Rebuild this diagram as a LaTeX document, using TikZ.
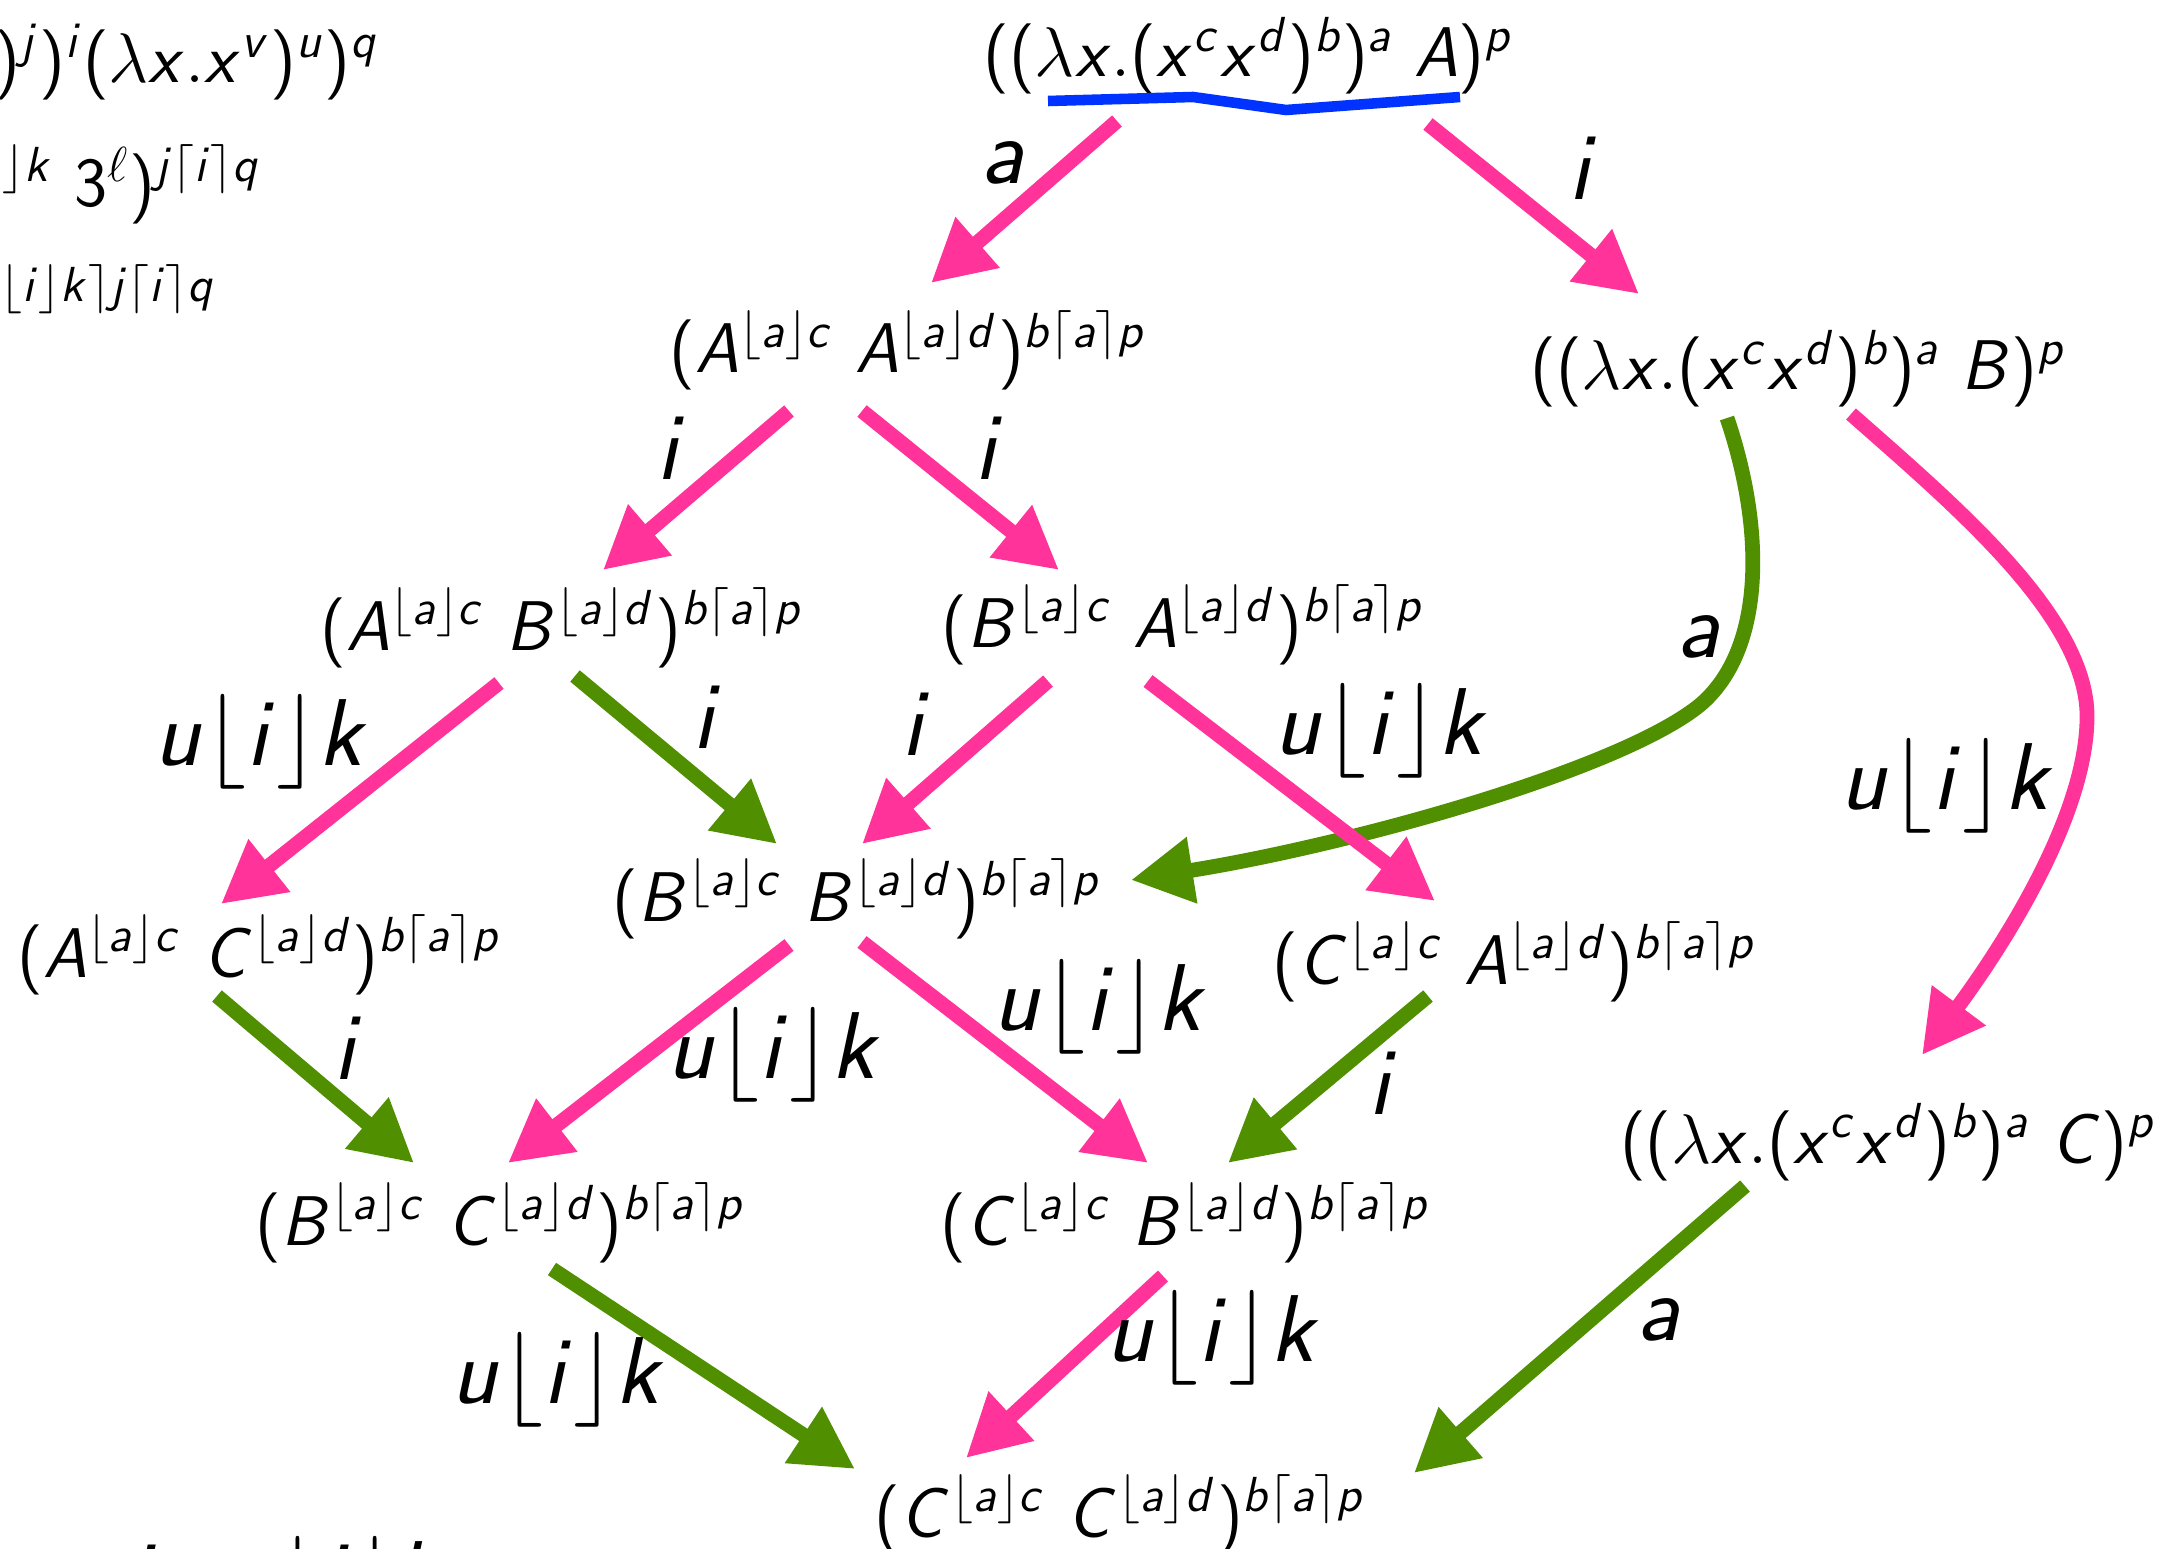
\documentclass[tikz,border=0pt]{standalone}
\usepackage{fix-cm}
\usetikzlibrary{arrows.meta,calc}
\DeclareMathAlphabet{\mathsfit}{OT1}{cmss}{m}{sl}
\SetSymbolFont{operators}{normal}{OT1}{cmss}{m}{n}
\newcommand{\sm}[1]{$\mathsfit{#1}$}
\definecolor{pinkc}{RGB}{255,51,153}
\definecolor{greenc}{RGB}{79,143,0}
\definecolor{bluec}{RGB}{0,51,255}
\tikzset{
  expr/.style={font=\fontsize{20}{24}\selectfont, inner sep=0pt, anchor=base},
  lab/.style={font=\fontsize{27}{32}\selectfont, inner sep=0pt},
  tipx/.tip={Triangle[length=17.6pt,width=18pt]},
  pk/.style={draw=pinkc, line width=4.2pt, -tipx},
  gr/.style={draw=greenc, line width=4.2pt, -tipx},
}
\begin{document}
\begin{tikzpicture}[x=0.01cm,y=-0.01cm]
\useasboundingbox (0,0) rectangle (2163,1549);
\clip (0,0) rectangle (2163,1549);
\fill[white] (0,0) rectangle (2163,1549);

% remnants of neighbouring text
\node[expr, anchor=base east] (r1) at (380,83) {\sm{(x^{\ell})^{j})^{i}(\lambda x.x^{v})^{u})^{q}}};
\node[expr, anchor=base east] (r2) at (262,207) {$\mathsfit{(A^{u\lfloor i\rfloor k}}\ 3^{\ell})^{\mathsfit{j\lceil i\rceil q}}$};
\node[font=\fontsize{14}{17}\selectfont, inner sep=0pt, anchor=base east] (r3) at (215,302) {\sm{\lfloor i\rfloor k\rceil j\lceil i\rceil q}};
\node[lab, anchor=base west] (r4) at (128,1607) {\sm{i\hskip20pt u\lfloor i\rfloor k}};

% terms
\node[expr] (T)  at (1248,77)  {\sm{((\lambda x.(x^{c}x^{d})^{b})^{a}\ A)^{p}}};
\node[expr] (AA) at (908,373)  {\sm{(A^{\lfloor a\rfloor c}\ A^{\lfloor a\rfloor d})^{b\lceil a\rceil p}}};
\node[expr] (Bl) at (1798,390) {\sm{((\lambda x.(x^{c}x^{d})^{b})^{a}\ B)^{p}}};
\node[expr] (AB) at (562,650)  {\sm{(A^{\lfloor a\rfloor c}\ B^{\lfloor a\rfloor d})^{b\lceil a\rceil p}}};
\node[expr] (BA) at (1183,647) {\sm{(B^{\lfloor a\rfloor c}\ A^{\lfloor a\rfloor d})^{b\lceil a\rceil p}}};
\node[expr] (AC) at (259,977)  {\sm{(A^{\lfloor a\rfloor c}\ C^{\lfloor a\rfloor d})^{b\lceil a\rceil p}}};
\node[expr] (BB) at (857,921)  {\sm{(B^{\lfloor a\rfloor c}\ B^{\lfloor a\rfloor d})^{b\lceil a\rceil p}}};
\node[expr] (CA) at (1514,984) {\sm{(C^{\lfloor a\rfloor c}\ A^{\lfloor a\rfloor d})^{b\lceil a\rceil p}}};
\node[expr] (Cl) at (1888,1163) {\sm{((\lambda x.(x^{c}x^{d})^{b})^{a}\ C)^{p}}};
\node[expr] (BC) at (500,1245) {\sm{(B^{\lfloor a\rfloor c}\ C^{\lfloor a\rfloor d})^{b\lceil a\rceil p}}};
\node[expr] (CB) at (1185,1245) {\sm{(C^{\lfloor a\rfloor c}\ B^{\lfloor a\rfloor d})^{b\lceil a\rceil p}}};
\node[expr] (CC) at (1120,1537) {\sm{(C^{\lfloor a\rfloor c}\ C^{\lfloor a\rfloor d})^{b\lceil a\rceil p}}};

% redex underline
\draw[bluec, line width=3pt] ($(T.base)+(-200,24)$) -- ($(T.base)+(-55,20)$) -- ($(T.base)+(38,33)$) -- ($(T.base)+(212,20)$);

% connectors
\draw[pk] ($(T.base)+(-131,44)$) -- ($(AA.base)+(23,-90)$);
\draw[pk] ($(T.base)+(180,47)$) -- ($(Bl.base)+(-159,-96)$);
\draw[pk] ($(AA.base)+(-119,38)$) -- ($(AB.base)+(41,-80)$);
\draw[pk] ($(AA.base)+(-46,38)$) -- ($(BA.base)+(-124,-77)$);
\draw[gr] ($(Bl.base)+(-71,28)$) .. controls (1765,530) and (1765,650) .. (1700,705)
          .. controls (1620,770) and (1350,845) .. ($(BB.base)+(274,-41)$);
\draw[pk] ($(Bl.base)+(53,24)$) .. controls (1960,510) and (2090,620) .. (2087,720)
          .. controls (2085,820) and (2000,950) .. ($(Cl.base)+(34,-108)$);
\draw[pk] ($(AB.base)+(-63,33)$) -- ($(AC.base)+(-38,-73)$);
\draw[gr] ($(AB.base)+(13,26)$) -- ($(BB.base)+(-80,-77)$);
\draw[pk] ($(BA.base)+(-135,34)$) -- ($(BB.base)+(5,-77)$);
\draw[pk] ($(BA.base)+(-35,34)$) -- ($(CA.base)+(-79,-83)$);
\draw[gr] ($(AC.base)+(-42,19)$) -- ($(BC.base)+(-86,-82)$);
\draw[pk] ($(BB.base)+(-68,24)$) -- ($(BC.base)+(8,-82)$);
\draw[pk] ($(BB.base)+(5,21)$) -- ($(CB.base)+(-37,-82)$);
\draw[gr] ($(CA.base)+(-86,12)$) -- ($(CB.base)+(43,-82)$);
\draw[gr] ($(BC.base)+(52,24)$) -- ($(CC.base)+(-265,-68)$);
\draw[pk] ($(CB.base)+(-22,31)$) -- ($(CC.base)+(-154,-79)$);
\draw[gr] ($(Cl.base)+(-143,23)$) -- ($(CC.base)+(294,-64)$);

% labels
\node[lab] (l1)  at (1004,163)  {\sm{a}};
\node[lab] (l2)  at (1584,168)  {\sm{i}};
\node[lab] (l3)  at (672,448)   {\sm{i}};
\node[lab] (l4)  at (990,448)   {\sm{i}};
\node[lab] (l5)  at (1700,637)  {\sm{a}};
\node[lab] (l6)  at (1948,786)  {\sm{u\lfloor i\rfloor k}};
\node[lab] (l7)  at (262,742)   {\sm{u\lfloor i\rfloor k}};
\node[lab] (l8)  at (708,717)   {\sm{i}};
\node[lab] (l9)  at (917,724)   {\sm{i}};
\node[lab] (l10) at (1382,731)  {\sm{u\lfloor i\rfloor k}};
\node[lab] (l11) at (349,1048)  {\sm{i}};
\node[lab] (l12) at (775,1055)  {\sm{u\lfloor i\rfloor k}};
\node[lab] (l13) at (1101,1007) {\sm{u\lfloor i\rfloor k}};
\node[lab] (l14) at (1384,1083) {\sm{i}};
\node[lab] (l15) at (559,1380)  {\sm{u\lfloor i\rfloor k}};
\node[lab] (l16) at (1214,1338) {\sm{u\lfloor i\rfloor k}};
\node[lab] (l17) at (1660,1320) {\sm{a}};
\end{tikzpicture}
\end{document}
